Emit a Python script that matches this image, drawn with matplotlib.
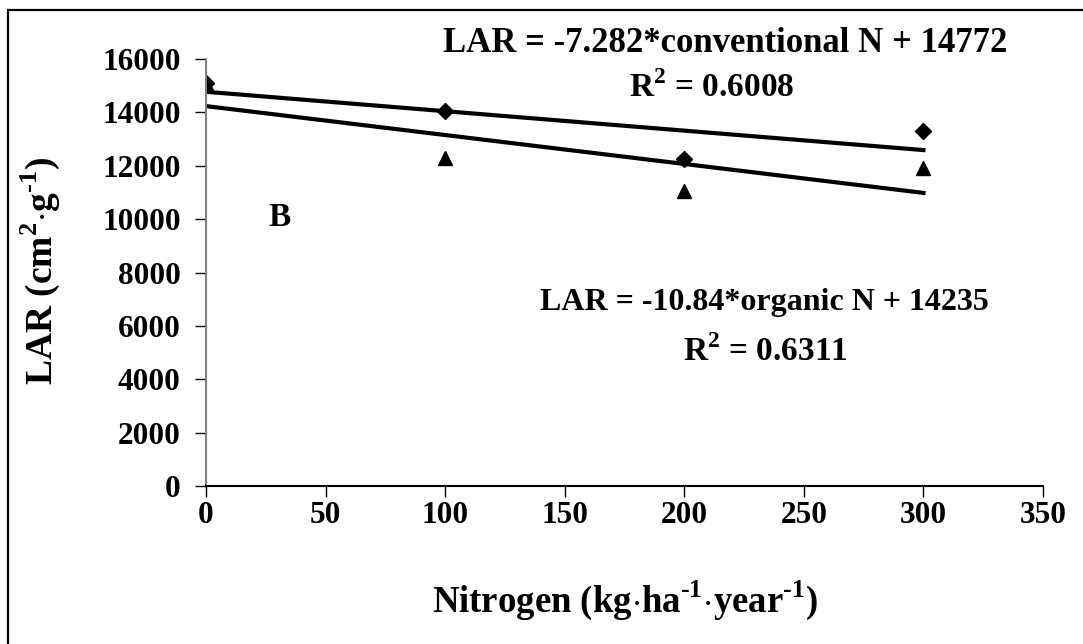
import numpy as np
import matplotlib.pyplot as plt
from matplotlib.patches import Rectangle

plt.rcParams['font.family'] = ['Liberation Serif', 'DejaVu Serif']
plt.rcParams['font.weight'] = 'bold'
plt.rcParams['mathtext.fontset'] = 'custom'
plt.rcParams['mathtext.rm'] = 'Liberation Serif:bold'
plt.rcParams['mathtext.bf'] = 'Liberation Serif:bold'

nitrogen = [0, 100, 200, 300]
lar_conventional = [15100, 14050, 12250, 13300]
lar_organic = [15100, 12300, 11050, 11900]

# fitted trend lines (slope, intercept)
fit_conventional = (-7.282, 14772)
fit_organic = (-10.84, 14235)
r2_conventional = 0.6008
r2_organic = 0.6311

xticks = [0, 50, 100, 150, 200, 250, 300, 350]
yticks = [0, 2000, 4000, 6000, 8000, 10000, 12000, 14000, 16000]

W, H = 1083, 644
fig = plt.figure(figsize=(W / 100, H / 100), dpi=100)
ax = fig.add_axes([206 / W, 1 - 486 / H, (1043 - 206) / W, (486 - 59) / H])

# outer chart frame
fig.add_artist(Rectangle((8 / W, -0.1), 1.2, 1 - 10 / H + 0.1,
                         transform=fig.transFigure, fill=False,
                         edgecolor='black', linewidth=1.6))

xs = np.array([0, 300])
ax.plot(xs, fit_conventional[0] * xs + fit_conventional[1], color='black', lw=3)
ax.plot(xs, fit_organic[0] * xs + fit_organic[1], color='black', lw=3)
ax.plot(nitrogen, lar_organic, '^', color='black', markersize=10, ls='none')
ax.plot(nitrogen, lar_conventional, 'D', color='black', markersize=8, ls='none')

ax.set_xlim(0, 350)
ax.set_ylim(0, 16000)
ax.set_xticks(xticks)
ax.set_yticks(yticks)
ax.tick_params(direction='out', length=8, width=1, labelsize=22.5)
ax.tick_params(axis='x', pad=3)
ax.tick_params(axis='y', pad=10)
for sp in ['top', 'right']:
    ax.spines[sp].set_visible(False)
ax.spines['left'].set_color('#808080')
ax.spines['left'].set_linewidth(1.5)
ax.spines['bottom'].set_linewidth(1.5)
ax.patch.set_alpha(0)

txt = dict(ha='center', va='center', fontweight='bold')
fig.text(725 / W, 1 - 43 / H, 'LAR = -7.282*conventional N + 14772',
         fontsize=25, **txt)
fig.text(712 / W, 1 - 88 / H, r'R$^{2}$ = %.4f' % r2_conventional,
         fontsize=24, **txt)
fig.text(764 / W, 1 - 302 / H, 'LAR = -10.84*organic N + 14235',
         fontsize=23, **txt)
fig.text(765 / W, 1 - 352 / H, r'R$^{2}$ = %.4f' % r2_organic,
         fontsize=24, **txt)
fig.text(280 / W, 1 - 218 / H, 'B', fontsize=24, **txt)

fig.text(40 / W, 1 - 271 / H, r'LAR (cm$^{2}$$\cdot$g$^{\text{-1}}$)',
         rotation=90, fontsize=27, **txt)
fig.text(625 / W, 1 - 600 / H,
         r'Nitrogen (kg$\cdot$ha$^{\text{-1}}$$\cdot$year$^{\text{-1}}$)',
         fontsize=26.5, **txt)

fig.savefig('out.png', dpi=100)
